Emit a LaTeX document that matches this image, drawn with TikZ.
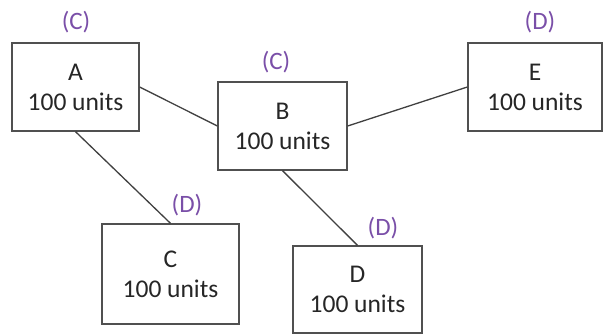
\documentclass[tikz,border=0pt]{standalone}
\usepackage{fontspec}
\setmainfont{Carlito}
\definecolor{lblpurple}{HTML}{7A4FA8}
\definecolor{boxline}{HTML}{505050}
\begin{document}
\begin{tikzpicture}[x=1pt,y=-1pt,
  unitbox/.style={draw=boxline, line width=1.3pt, fill=white, align=center, inner sep=0pt,
    font=\fontsize{25.5}{30}\selectfont, text=black!85},
  tag/.style={text=lblpurple, font=\fontsize{25}{30}\selectfont, inner sep=0pt},
  link/.style={draw=black!75, line width=1.3pt}]
\useasboundingbox (0,0) rectangle (603,335);
\node[unitbox, minimum width=127pt, minimum height=88pt] (A) at (75.5,87) {A\\100 units};
\node[unitbox, minimum width=129pt, minimum height=88pt] (B) at (282.5,126) {B\\100 units};
\node[unitbox, minimum width=134pt, minimum height=88pt] (E) at (535,87) {E\\100 units};
\node[unitbox, minimum width=137pt, minimum height=100pt] (C) at (170.5,274) {C\\100 units};
\node[unitbox, minimum width=129pt, minimum height=87pt] (D) at (357.5,289.5) {D\\100 units};
\node[tag] (tA) at (76,22) {(C)};
\node[tag] (tB) at (276,62) {(C)};
\node[tag] (tE) at (540,22) {(D)};
\node[tag] (tC) at (187,205) {(D)};
\node[tag] (tD) at (383,228) {(D)};
\draw[link] (A.east) -- (B.west);
\draw[link] (B.east) -- (E.west);
\draw[link] (A.south) -- (C.north);
\draw[link] (B.south) -- (D.north);
\end{tikzpicture}
\end{document}
